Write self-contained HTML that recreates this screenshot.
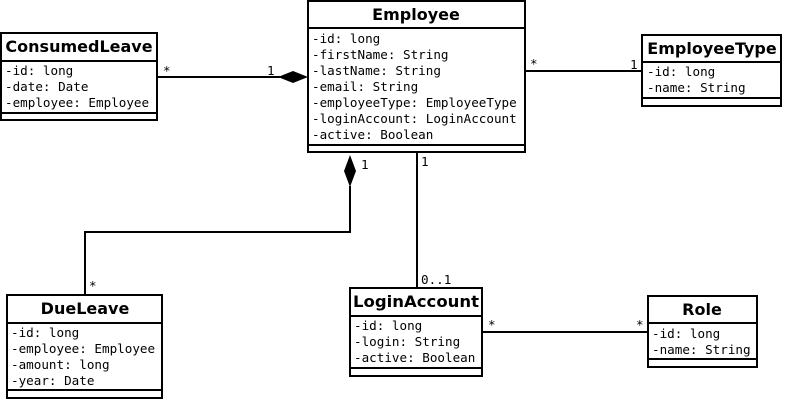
<!DOCTYPE html>
<html><head><meta charset="utf-8"><style>
html,body{margin:0;padding:0;background:#fff;width:785px;height:402px;overflow:hidden}
svg{display:block}
.t{font-family:"DejaVu Sans","Liberation Sans",sans-serif;font-weight:bold;font-size:16px;text-anchor:middle}
.a{font-family:"DejaVu Sans Mono","Liberation Mono",monospace;font-size:12.6px}
.c{font-family:"DejaVu Sans Mono","Liberation Mono",monospace;font-size:12.6px}
rect,line,polyline{stroke:#000;stroke-width:2;fill:none}
</style></head><body>
<svg width="785" height="402" viewBox="0 0 785 402">
<!-- Employee -->
<rect x="308" y="1" width="217" height="151"/>
<line x1="308" y1="28" x2="525" y2="28"/><line x1="308" y1="145" x2="525" y2="145"/>
<text class="t" x="416" y="20">Employee</text>
<g class="a">
<text x="312" y="43">-id: long</text>
<text x="312" y="59">-firstName: String</text>
<text x="312" y="75">-lastName: String</text>
<text x="312" y="91">-email: String</text>
<text x="312" y="107">-employeeType: EmployeeType</text>
<text x="312" y="123">-loginAccount: LoginAccount</text>
<text x="312" y="139">-active: Boolean</text>
</g>
<!-- ConsumedLeave -->
<rect x="1" y="33" width="156" height="87"/>
<line x1="1" y1="61" x2="157" y2="61"/><line x1="1" y1="113" x2="157" y2="113"/>
<text class="t" x="79" y="52">ConsumedLeave</text>
<g class="a">
<text x="5" y="75">-id: long</text>
<text x="5" y="91">-date: Date</text>
<text x="5" y="107">-employee: Employee</text>
</g>
<!-- EmployeeType -->
<rect x="642" y="35" width="139" height="71"/>
<line x1="642" y1="62" x2="781" y2="62"/><line x1="642" y1="98" x2="781" y2="98"/>
<text class="t" x="712" y="54">EmployeeType</text>
<g class="a">
<text x="647" y="76">-id: long</text>
<text x="647" y="92">-name: String</text>
</g>
<!-- DueLeave -->
<rect x="7" y="295" width="155" height="103"/>
<line x1="7" y1="323" x2="162" y2="323"/><line x1="7" y1="390" x2="162" y2="390"/>
<text class="t" x="85" y="314">DueLeave</text>
<g class="a">
<text x="11" y="337">-id: long</text>
<text x="11" y="353">-employee: Employee</text>
<text x="11" y="369">-amount: long</text>
<text x="11" y="385">-year: Date</text>
</g>
<!-- LoginAccount -->
<rect x="350" y="288" width="132" height="88"/>
<line x1="350" y1="316" x2="482" y2="316"/><line x1="350" y1="368" x2="482" y2="368"/>
<text class="t" x="416" y="307" textLength="126" lengthAdjust="spacingAndGlyphs">LoginAccount</text>
<g class="a">
<text x="354" y="330">-id: long</text>
<text x="354" y="346">-login: String</text>
<text x="354" y="362">-active: Boolean</text>
</g>
<!-- Role -->
<rect x="648" y="296" width="109" height="71"/>
<line x1="648" y1="323" x2="757" y2="323"/><line x1="648" y1="359" x2="757" y2="359"/>
<text class="t" x="702" y="315">Role</text>
<g class="a">
<text x="652" y="338">-id: long</text>
<text x="652" y="354">-name: String</text>
</g>
<!-- connectors -->
<line x1="157" y1="77" x2="280" y2="77"/>
<polygon points="278,77 293,71 308,77 293,83" fill="#000"/>
<line x1="525" y1="71" x2="642" y2="71"/>
<polygon points="350,155 356,171 350,187 344,171" fill="#000"/>
<polyline points="350,186 350,232 85,232 85,295"/>
<line x1="417" y1="152" x2="417" y2="288"/>
<line x1="482" y1="332" x2="648" y2="332"/>
<g class="c">
<text x="163" y="75">*</text><text x="267" y="75">1</text>
<text x="530" y="68">*</text><text x="630" y="69">1</text>
<text x="361" y="169">1</text><text x="89" y="290">*</text>
<text x="421" y="166">1</text><text x="421" y="284">0..1</text>
<text x="488" y="329">*</text><text x="636" y="329">*</text>
</g>
</svg>
</body></html>
